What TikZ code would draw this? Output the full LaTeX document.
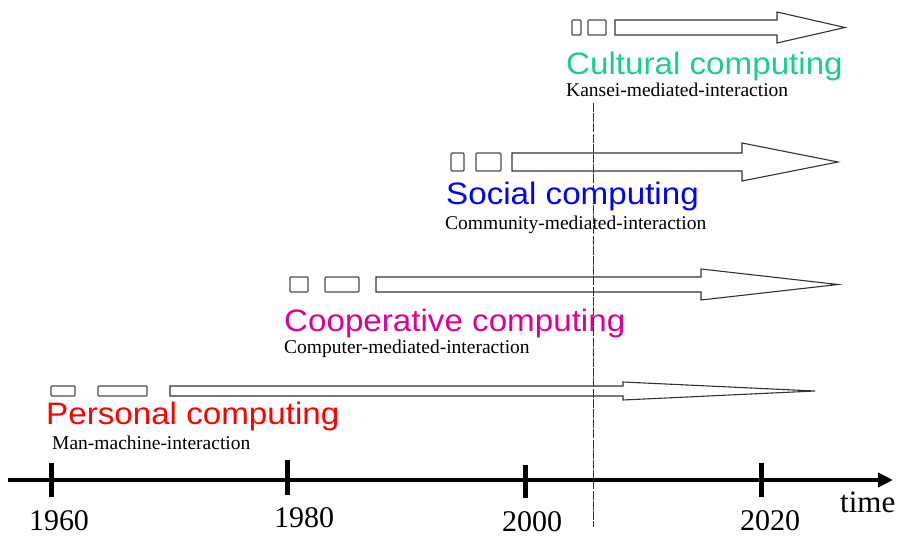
\documentclass[tikz,border=0pt]{standalone}
\usepackage{fontspec}
\setmainfont{Liberation Serif}
\setsansfont{Liberation Sans}
\usetikzlibrary{arrows.meta}
\definecolor{culturalc}{RGB}{25,205,150}
\definecolor{socialc}{RGB}{0,0,255}
\definecolor{coopc}{RGB}{220,0,150}
\definecolor{personalc}{RGB}{255,0,0}
\begin{document}
\begin{tikzpicture}[x=1pt,y=-1pt,
  smallbox/.style={draw=black!70, line width=1.3pt, rounded corners=1pt},
  blockarrow/.style={draw=black!80, line width=1.1pt, fill=white, line join=miter},
  titletext/.style={anchor=base west, inner sep=0pt, font=\sffamily\fontsize{31}{31}\selectfont},
  subtext/.style={anchor=base west, inner sep=0pt, font=\fontsize{19.5}{19.5}\selectfont},
  yeartext/.style={anchor=base, inner sep=0pt, font=\fontsize{30}{30}\selectfont},
  tickline/.style={line width=5pt},
  vline/.style={line width=0.9pt, black!80, dash pattern=on 9pt off 1.2pt}
]
\useasboundingbox (0,0) rectangle (898,537);

% ---------- timeline ----------
\coordinate (tl) at (8,480);
\coordinate (tr) at (893,480);
\draw[line width=4pt, -{Triangle[length=15pt,width=14pt]}] (tl) -- (tr);
\foreach \x/\lx/\ly/\yr/\t/\b in {51/59/530/1960/463/497, 287/304/528/1980/460/495, 525/532/532/2000/465/498, 761/770/530/2020/463/497}{
  \draw[tickline] (\x,\t) -- (\x,\b);
  \node[yeartext] (y\yr) at (\lx,\ly) {\yr};
}
\node[anchor=base west, inner sep=0pt, font=\fontsize{31}{31}\selectfont] (time) at (840,512) {time};

% ---------- Cultural computing ----------
\draw[smallbox] (572,20) rectangle (581,35);
\draw[smallbox] (588,20) rectangle (606,35);
\draw[blockarrow] (615,20) -- (777,20) -- (777,12) -- (845,27.5) -- (777,43) -- (777,35) -- (615,35) -- cycle;
\node[titletext, text=culturalc] (cult) at (566,75) {\scalebox{1.07}[1]{Cultural computing}};
\node[subtext] (kansei) at (566,97) {Kansei-mediated-interaction};

% ---------- Social computing ----------
\draw[smallbox] (451,153) rectangle (464,171);
\draw[smallbox] (476,153) rectangle (501,171);
\draw[blockarrow] (512,153) -- (742,153) -- (742,143) -- (838,162) -- (742,181) -- (742,171) -- (512,171) -- cycle;
\node[titletext, text=socialc] (soc) at (446,205) {\scalebox{1.07}[1]{Social computing}};
\node[subtext] (community) at (445,230) {Community-mediated-interaction};

% ---------- Cooperative computing ----------
\draw[smallbox] (290,277) rectangle (308,292);
\draw[smallbox] (325,277) rectangle (359,292);
\draw[blockarrow] (376,277) -- (701,277) -- (701,269) -- (838,284.5) -- (701,300) -- (701,292) -- (376,292) -- cycle;
\node[titletext, text=coopc] (coop) at (284,332) {\scalebox{1.07}[1]{Cooperative computing}};
\node[subtext] (computer) at (284,354) {Computer-mediated-interaction};

% ---------- Personal computing ----------
\draw[smallbox] (51,386) rectangle (75,396);
\draw[smallbox] (98,386) rectangle (147,396);
\draw[blockarrow] (170,386) -- (623,386) -- (623,382) -- (815,391) -- (623,400) -- (623,396) -- (170,396) -- cycle;
\node[titletext, text=personalc] (pers) at (46,425) {\scalebox{1.07}[1]{Personal computing}};
\node[subtext] (manmachine) at (52,450) {Man-machine-interaction};

% ---------- present-day marker ----------
\coordinate (vtop) at (593,103);
\coordinate (vbot) at (593,527);
\draw[vline] (vtop) -- (vbot);
\end{tikzpicture}
\end{document}
